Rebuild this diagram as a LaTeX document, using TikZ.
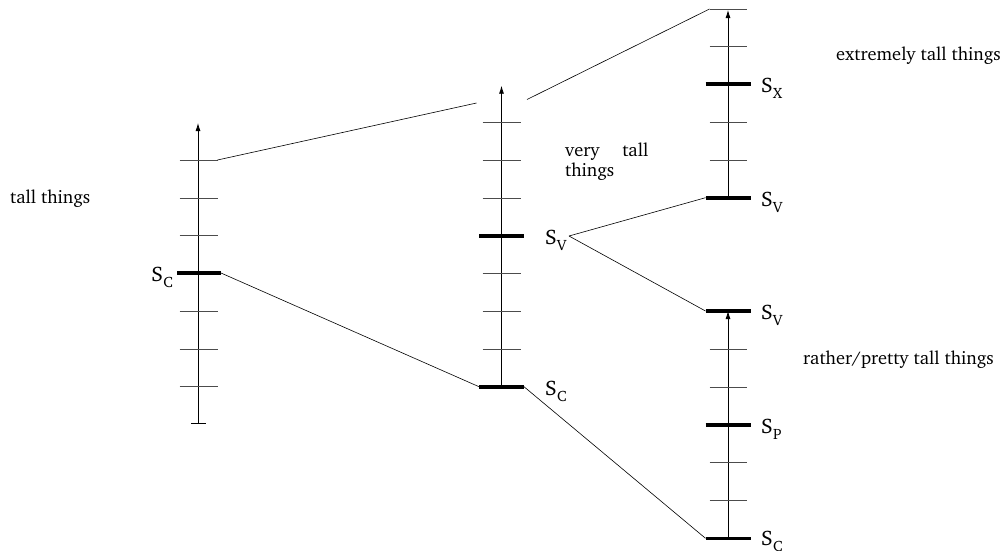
\documentclass[tikz,border=0pt]{standalone}
\usepackage[T1]{fontenc}
\renewcommand{\rmdefault}{bch}
\usetikzlibrary{arrows.meta}
% level label: capital S with a lowered capital index
\newcommand{\lvlname}[1]{S\kern0.2pt\raisebox{-0.3em}{\fontsize{15}{15}\selectfont #1}}
\begin{document}
\begin{tikzpicture}[x=1pt,y=-1pt,
  axis/.style={line width=0.8pt,-{Latex[length=8pt,width=5pt]}},
  tick/.style={line width=0.6pt,draw=black!70},
  level/.style={line width=3.6pt},
  link/.style={line width=0.6pt},
  lab/.style={font=\fontsize{21}{24}\selectfont,inner sep=0pt},
  txt/.style={font=\fontsize{18.4}{20}\selectfont,inner sep=0pt}]
\useasboundingbox (0,0) rectangle (1004,550);

% ---- left scale: tall things ----
\coordinate (Lbot) at (198,424);
\coordinate (Ltop) at (198,123);
\draw[axis,{Bar[width=15pt]}-{Latex[length=8pt,width=5pt]}] (Lbot) -- (Ltop);
\foreach \y in {198,235.7,311,349,386.7}
  \draw[tick] (179.5,\y) -- (217.5,\y);
\coordinate (Ltw) at (179.5,160);
\coordinate (Lte) at (217.5,160);
\draw[tick] (Ltw) -- (Lte);
\coordinate (LCw) at (177,273);
\coordinate (LCe) at (221,273);
\draw[level] (LCw) -- (LCe);
\node[lab,anchor=base east] (LCl) at (173,281) {\lvlname{C}};
\node[txt,anchor=base west] (Ltxt) at (10,203) {tall things};

% ---- middle scale: very tall things ----
\coordinate (Mbot) at (501.5,386.7);
\coordinate (Mtop) at (501.5,85.7);
\draw[axis] (Mbot) -- (Mtop);
\foreach \y in {122.3,160,198,273.3,311,349}
  \draw[tick] (482.5,\y) -- (520.5,\y);
\draw[level] (479,235.7) -- (524,235.7);
\coordinate (MCw) at (479,386.7);
\coordinate (MCe) at (524,386.7);
\draw[level] (MCw) -- (MCe);
\node[lab,anchor=base west] (MVl) at (545,244) {\lvlname{V}};
\node[lab,anchor=base west] (MCl) at (545,395) {\lvlname{C}};
\coordinate (MVp) at (569,236);
\node[txt,anchor=base west,text width=83pt,align=left] (Mtxt) at (565,156)
  {very\hfill tall\\[0pt]things};
\coordinate (Mzl) at (476.5,103);
\coordinate (Mzr) at (527,99.5);

% ---- upper right scale: extremely tall things ----
\coordinate (Ubot) at (728,197.7);
\coordinate (Utop) at (728,10);
\draw[axis] (Ubot) -- (Utop);
\coordinate (Utw) at (709.5,9);
\coordinate (Ute) at (746.5,9);
\draw[tick] (Utw) -- (Ute);
\foreach \y in {46.7,122.7,160.3}
  \draw[tick] (709.5,\y) -- (746.5,\y);
\draw[level] (705.5,84) -- (751,84);
\coordinate (UVw) at (705.5,197.7);
\draw[level] (UVw) -- (751,197.7);
\node[lab,anchor=base west] (UXl) at (761,92) {\lvlname{X}};
\node[lab,anchor=base west] (UVl) at (761,206) {\lvlname{V}};
\node[txt,anchor=base west] (Utxt) at (836,60) {extremely tall things};

% ---- lower right scale: rather/pretty tall things ----
\coordinate (Rbot) at (728,538.3);
\coordinate (Rtop) at (728,311);
\draw[axis] (Rbot) -- (Rtop);
\foreach \y in {349.3,387,462.7,500.7}
  \draw[tick] (709.5,\y) -- (746.5,\y);
\coordinate (RVw) at (705.5,311);
\draw[level] (RVw) -- (751,311);
\draw[level] (705.5,425) -- (751,425);
\coordinate (RCw) at (705.5,538.3);
\draw[level] (RCw) -- (751,538.3);
\node[lab,anchor=base west] (RVl) at (761,319) {\lvlname{V}};
\node[lab,anchor=base west] (RPl) at (761,433) {\lvlname{P}};
\node[lab,anchor=base west] (RCl) at (761,545) {\lvlname{C}};
\node[txt,anchor=base west] (Rtxt) at (803,364) {rather/pretty tall things};

% ---- connectors between scales ----
\draw[link] (Lte) -- (Mzl);
\draw[link] (Mzr) -- (Utw);
\draw[link] (LCe) -- (MCw);
\draw[link] (MCe) -- (RCw);
\draw[link] (MVp) -- (UVw);
\draw[link] (MVp) -- (RVw);
\end{tikzpicture}
\end{document}
